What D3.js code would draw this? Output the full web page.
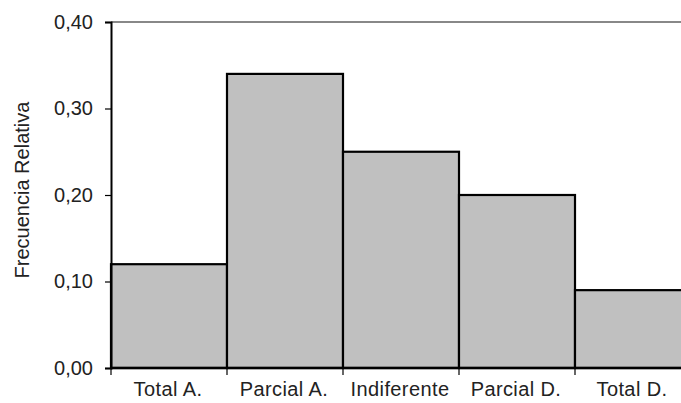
<!DOCTYPE html>
<html>
<head>
  <meta charset="utf-8">
  <style>
    body { margin: 0; background: #fff; }
    text { font-family: "Liberation Sans", Arial, sans-serif; fill: #222; }
  </style>
  <script src="https://d3js.org/d3.v7.min.js"></script>
</head>
<body>
  <div id="chart"></div>
  <script>
    const categories = ["Total A.", "Parcial A.", "Indiferente", "Parcial D.", "Total D."];
    const values = [0.12, 0.34, 0.25, 0.20, 0.09];
    const yTicks = [0, 0.1, 0.2, 0.3, 0.4];

    const W = 681, H = 403;
    const margin = { top: 22, left: 111, bottom: 35 };
    const plotW = 580; // plot runs past the right edge, as in the source
    const height = H - margin.top - margin.bottom;
    const fontSize = "20px";

    const svg = d3.select("#chart").append("svg")
      .attr("width", W)
      .attr("height", H);

    const g = svg.append("g")
      .attr("transform", `translate(${margin.left},${margin.top})`);

    const x = d3.scaleBand()
      .domain(categories)
      .range([0, plotW])
      .padding(0);

    const y = d3.scaleLinear()
      .domain([0, 0.4])
      .range([height, 0]);

    const fmt = d => d3.format(".2f")(d).replace(".", ",");

    // top frame line
    g.append("line")
      .attr("x1", 0).attr("x2", plotW)
      .attr("y1", 0).attr("y2", 0)
      .style("stroke", "#888")
      .style("stroke-width", 2);

    // bars
    g.selectAll(".bar")
      .data(values)
      .enter()
      .append("rect")
      .attr("x", (d, i) => x(categories[i]))
      .attr("y", d => y(d))
      .attr("width", x.bandwidth())
      .attr("height", d => height - y(d))
      .style("fill", "#c0c0c0")
      .style("stroke", "#000")
      .style("stroke-width", 2.2);

    // y axis
    const yAxis = g.append("g")
      .call(d3.axisLeft(y).tickValues(yTicks).tickFormat(fmt).tickSize(6).tickPadding(12));
    yAxis.select(".domain").style("stroke", "#000").style("stroke-width", 2);
    yAxis.selectAll(".tick line").style("stroke", "#000").style("stroke-width", 1.2);
    yAxis.selectAll("text")
      .attr("font-size", null)
      .attr("font-family", null)
      .style("font-size", fontSize)
      .style("fill", "#222");

    // x axis: ticks at category boundaries
    const xAxis = g.append("g")
      .attr("transform", `translate(0,${height})`);
    xAxis.append("line")
      .attr("x1", 0).attr("x2", plotW)
      .style("stroke", "#000")
      .style("stroke-width", 2.5);
    xAxis.selectAll(".xtick")
      .data(categories)
      .enter()
      .append("line")
      .attr("x1", d => x(d)).attr("x2", d => x(d))
      .attr("y1", 0).attr("y2", 7)
      .style("stroke", "#000")
      .style("stroke-width", 1.2);
    xAxis.selectAll(".xlabel")
      .data(categories)
      .enter()
      .append("text")
      .attr("x", d => x(d) + x.bandwidth() / 2 - 1)
      .attr("y", 28)
      .attr("text-anchor", "middle")
      .style("font-size", fontSize)
      .style("letter-spacing", "0.4px")
      .text(d => d);

    // y label
    svg.append("text")
      .attr("transform", "rotate(-90)")
      .attr("x", -(margin.top + height / 2) + 5)
      .attr("y", 29)
      .attr("text-anchor", "middle")
      .style("font-size", fontSize)
      .text("Frecuencia Relativa");
  </script>
</body>
</html>
